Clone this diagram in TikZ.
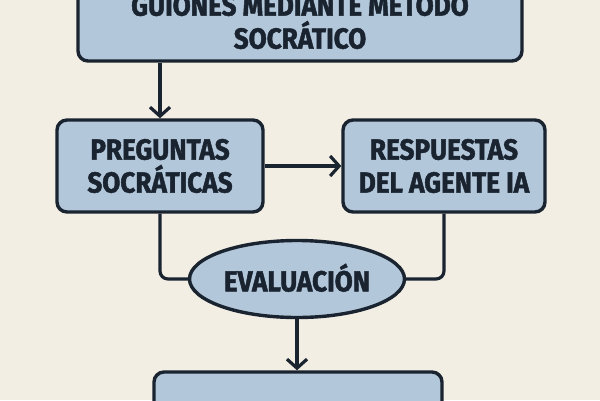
\documentclass[tikz,border=0pt]{standalone}
\usepackage{fontspec}
\setmainfont{Fira Sans}[BoldFont={Fira Sans Bold},BoldFeatures={FakeStretch=0.9,FakeBold=1.6}]
\usetikzlibrary{arrows.meta,shapes.geometric}
\definecolor{bgc}{HTML}{F3EEE4}
\definecolor{boxc}{HTML}{B3C7DA}
\definecolor{inkc}{HTML}{1A2430}
\tikzset{
  stepbox/.style={draw=inkc,fill=boxc,line width=3.4pt,rounded corners=10pt,align=center,
    font=\bfseries\fontsize{29}{33}\selectfont,text=inkc,inner sep=0pt},
  evalbox/.style={ellipse,draw=inkc,fill=boxc,line width=3.4pt,align=center,
    font=\bfseries\fontsize{29}{33}\selectfont,text=inkc,inner sep=0pt},
  conn/.style={draw=inkc,line width=3.2pt},
  arr/.style={conn,-{Straight Barb[length=9pt,width=20pt,line width=3.2pt]}},
}
\begin{document}
\begin{tikzpicture}[x=1pt,y=-1pt]
\useasboundingbox (0,0) rectangle (600,400);
\fill[bgc] (0,0) rectangle (600,400);
\begin{scope}
\clip (0,0) rectangle (600,400);
\node[stepbox,minimum width=444pt,minimum height=85pt] (top) at (300,18.5) {GUIONES MEDIANTE MÉTODO\\SOCRÁTICO};
\node[stepbox,minimum width=206pt,minimum height=92pt] (pl) at (160,166) {PREGUNTAS\\SOCRÁTICAS};
\node[stepbox,minimum width=202pt,minimum height=92pt] (rs) at (444,166) {RESPUESTAS\\DEL AGENTE IA};
\node[evalbox,minimum width=215pt,minimum height=77pt] (ev) at (297,279) {\raisebox{3pt}{EVALUACIÓN}};
\node[stepbox,minimum width=288pt,minimum height=96pt] (bot) at (298,420) {};
\draw[arr] (pl.north |- top.south) -- (pl.north);
\draw[arr] (pl.east) -- (rs.west);
\draw[conn,rounded corners=8pt] (pl.south) |- (ev.west);
\draw[conn,rounded corners=8pt] (rs.south) |- (ev.east);
\draw[arr] (ev.south) -- (ev.south |- bot.north);
\end{scope}
\end{tikzpicture}
\end{document}
